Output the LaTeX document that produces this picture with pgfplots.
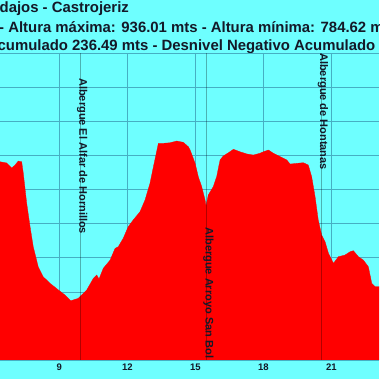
\documentclass[border=0pt]{standalone}
\usepackage{fontspec}
\setmainfont{Liberation Sans}
\usepackage{pgfplots}
\pgfplotsset{compat=1.18}
\definecolor{bgcyan}{RGB}{110,255,255}
\definecolor{gridteal}{RGB}{70,175,195}
\definecolor{txt}{RGB}{20,25,40}
\begin{document}
\begin{tikzpicture}
\useasboundingbox (0,0) rectangle (379pt,379pt);
\clip (0,0) rectangle (379pt,379pt);
\fill[bgcyan] (0,0) rectangle (379pt,379pt);
\node[anchor=base west, inner sep=0, font=\bfseries\fontsize{14.9}{16}\selectfont, text=txt] at (-0.5pt,366pt) {dajos - Castrojeriz};
\node[anchor=base west, inner sep=0, font=\bfseries\fontsize{14.9}{16}\selectfont, text=txt] at (-1pt,346.5pt) {- Altura máxima: 936.01 mts - Altura mínima: 784.62 mts};
\node[anchor=base west, inner sep=0, font=\bfseries\fontsize{14.9}{16}\selectfont, text=txt] at (-2.5pt,328.5pt) {cumulado 236.49 mts - Desnivel Negativo Acumulado};
\begin{axis}[at={(0pt,19pt)}, anchor=south west, scale only axis,
  width=379pt, height=307pt,
  xmin=6.384, xmax=23.10, ymin=775, ymax=1000,
  xtick={9,12,15,18,21}, ytick={775,800,...,1000}, yticklabels={},
  grid=major, grid style={gridteal, line width=0.5pt},
  major tick length=0, axis line style={draw=none},
  xticklabel style={font=\bfseries\fontsize{9.5}{10}\selectfont, text=txt},
  /pgf/number format/assume math mode=true]
\addplot[fill=red, draw=red, line width=0.3pt] coordinates {
(6.00,921.0) (6.38,920.3) (6.68,919.4) (6.90,915.7) (7.05,917.9) (7.19,920.8)
(7.34,920.3) (7.41,912.0) (7.56,890.0) (7.71,872.7) (7.85,858.0) (8.07,843.3)
(8.29,836.0) (8.59,831.2) (8.96,826.3) (9.25,822.6) (9.50,818.4) (9.84,820.2)
(10.21,826.3) (10.50,834.8) (10.65,837.3) (10.75,834.3) (10.94,842.2) (11.24,848.2)
(11.46,856.8) (11.60,858.0) (11.82,864.2) (12.04,872.7) (12.26,877.6) (12.56,883.7)
(12.78,892.2) (13.00,904.5) (13.15,916.6) (13.37,933.8) (13.59,933.8) (13.88,934.2)
(14.18,935.5) (14.47,934.5) (14.69,931.3) (14.77,928.9) (14.99,919.1) (15.13,909.3)
(15.28,902.0) (15.43,892.2) (15.47,887.8) (15.57,895.9) (15.79,902.0) (15.94,909.3)
(16.09,921.6) (16.23,924.5) (16.46,926.9) (16.68,929.4) (16.97,927.6) (17.27,926.0)
(17.56,925.2) (17.85,926.5) (18.00,927.6) (18.22,928.9) (18.44,926.5) (18.74,924.0)
(19.03,921.6) (19.18,918.6) (19.47,919.1) (19.76,919.6) (19.98,917.9) (20.13,909.3)
(20.28,894.7) (20.42,877.6) (20.57,866.6) (20.72,861.7) (20.87,853.2) (21.09,845.8)
(21.31,850.7) (21.60,851.9) (21.82,854.3) (21.97,855.1) (22.19,850.7) (22.41,848.2)
(22.63,843.3) (22.78,831.2) (22.93,828.7) (23.10,828.7) (23.40,828.0)
} \closedcycle;
\draw[black, opacity=0.3, line width=0.4pt] (axis cs:9.91,775) -- (axis cs:9.91,1000);
\draw[black, opacity=0.3, line width=0.4pt] (axis cs:15.47,775) -- (axis cs:15.47,1000);
\draw[black, opacity=0.3, line width=0.4pt] (axis cs:20.53,775) -- (axis cs:20.53,1000);
\draw[gray!70, line width=0.6pt] (rel axis cs:0,0) -- (rel axis cs:1,0);
\node[xshift=-0.5pt, rotate=-90, anchor=base west, inner sep=0, font=\bfseries\fontsize{11}{12}\selectfont, text=txt] at (axis cs:9.91,981.7) {Albergue El Alfar de Hornillos};
\node[xshift=-0.5pt, rotate=-90, anchor=base west, inner sep=0, font=\bfseries\fontsize{11}{12}\selectfont, text=txt] at (axis cs:15.47,872.4) {Albergue Arroyo San Bol};
\node[xshift=-0.5pt, rotate=-90, anchor=base west, inner sep=0, font=\bfseries\fontsize{11}{12}\selectfont, text=txt] at (axis cs:20.53,1000) {Albergue de Hontanas};
\end{axis}
\end{tikzpicture}
\end{document}
